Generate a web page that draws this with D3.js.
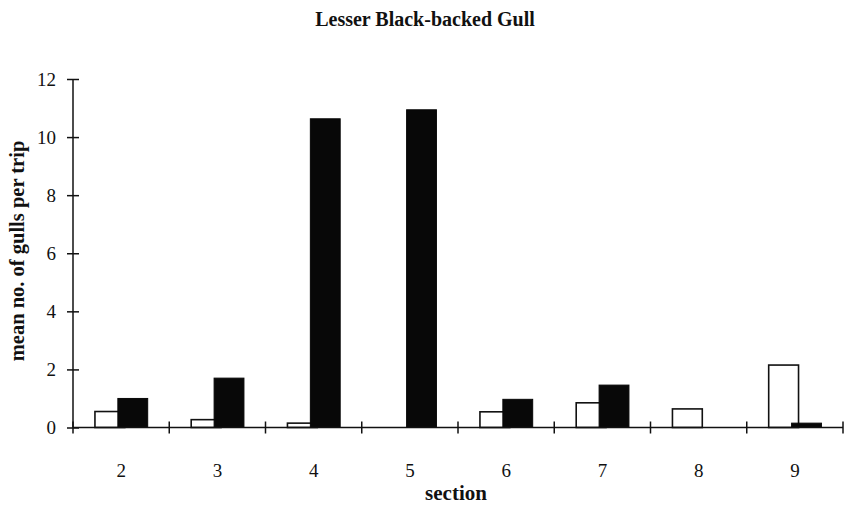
<!DOCTYPE html>
<html><head><meta charset="utf-8">
<script src="https://cdn.jsdelivr.net/npm/d3@7"></script>
<style>body{margin:0;background:#fff}svg{display:block}text{font-family:"Liberation Serif","Times New Roman",serif;fill:#111}</style>
</head><body>
<svg id="c" width="847" height="506"></svg>
<script>
const sections = ["2","3","4","5","6","7","8","9"];
const whiteValues = [0.55, 0.27, 0.15, 0, 0.54, 0.85, 0.64, 2.15];
const blackValues = [1.0, 1.7, 10.63, 10.94, 0.97, 1.46, 0, 0.15];
const yTicks = [0, 2, 4, 6, 8, 10, 12];

const svg = d3.select("#c");
const m = {left: 73, right: 843, top: 79, bottom: 427.5};
const x = d3.scaleBand().domain(sections).range([m.left, m.right]);
const y = d3.scaleLinear().domain([0, 12]).range([m.bottom, m.top]);
const bw = x.bandwidth();
const barW = bw * 0.31;
const offW = bw * 0.228, offB = bw * 0.466;

const g = svg.append("g");
g.selectAll("rect.w").data(sections.map((s,i)=>({s, v: whiteValues[i]})).filter(d=>d.v>0))
  .join("rect").attr("class","w")
  .attr("x", d => x(d.s) + offW).attr("width", barW)
  .attr("y", d => y(d.v)).attr("height", d => y(0) - y(d.v))
  .attr("fill", "#fff").attr("stroke", "#111").attr("stroke-width", 1.6);
g.selectAll("rect.b").data(sections.map((s,i)=>({s, v: blackValues[i]})).filter(d=>d.v>0))
  .join("rect").attr("class","b")
  .attr("x", d => x(d.s) + offB).attr("width", barW)
  .attr("y", d => y(d.v)).attr("height", d => y(0) - y(d.v))
  .attr("fill", "#080808").attr("stroke", "#080808").attr("stroke-width", 1);

const ya = svg.append("g").attr("transform", `translate(${m.left},0)`)
  .call(d3.axisLeft(y).tickValues(yTicks).tickSize(6).tickPadding(11).tickFormat(d3.format("d")));
ya.select(".domain").attr("d", `M0,${m.bottom}V${m.top}`).attr("stroke","#111").attr("stroke-width",1.5);
ya.selectAll(".tick line").attr("x1", -6).attr("x2", 6).attr("stroke","#111").attr("stroke-width",1.5);
ya.selectAll(".tick text").attr("font-size", 19).attr("font-family","Liberation Serif").attr("fill","#111");

const xa = svg.append("g").attr("transform", `translate(0,${m.bottom})`)
  .call(d3.axisBottom(x).tickSize(0).tickPadding(36));
xa.select(".domain").attr("d", `M${m.left},0H${m.right}`).attr("stroke","#111").attr("stroke-width",1.5);
xa.selectAll(".tick text").attr("font-size", 19).attr("font-family","Liberation Serif").attr("fill","#111");
const bounds = sections.map(s => x(s) + bw).concat([m.left]);
xa.selectAll("line.bt").data(bounds).join("line").attr("class","bt")
  .attr("x1", d=>d).attr("x2", d=>d).attr("y1", -6).attr("y2", 6)
  .attr("stroke","#111").attr("stroke-width",1.5);

svg.append("text").attr("x", 425).attr("y", 26).attr("text-anchor","middle")
  .attr("font-size", 20).attr("font-weight","bold").text("Lesser Black-backed Gull");
svg.append("text").attr("x", 456).attr("y", 500).attr("text-anchor","middle")
  .attr("font-size", 21).attr("font-weight","bold").text("section");
svg.append("text").attr("transform", "translate(24,251) rotate(-90)").attr("text-anchor","middle")
  .attr("font-size", 20.5).attr("font-weight","bold").text("mean no. of gulls per trip");
</script>
</body></html>
